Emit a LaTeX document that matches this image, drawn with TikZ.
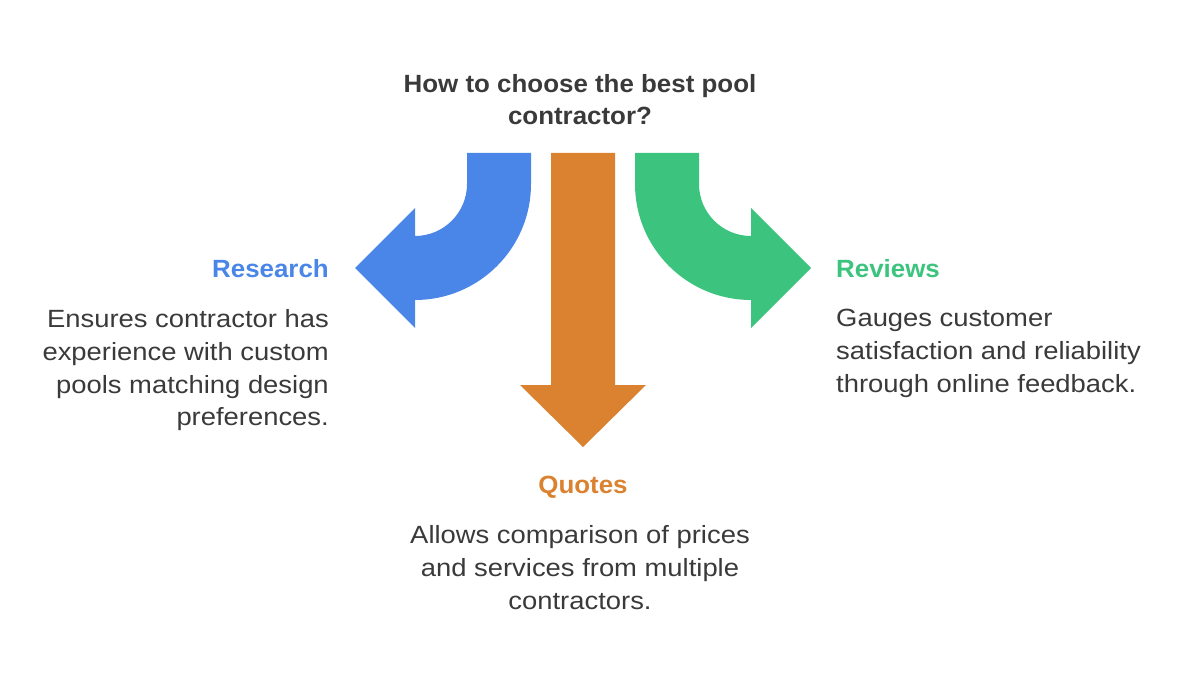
\documentclass[tikz,border=0pt]{standalone}
\usepackage{fontspec}
\setmainfont{Liberation Sans}
\newfontfamily\bodyf[FakeStretch=1.1]{Liberation Sans}
\newfontfamily\headf[FakeStretch=1.04]{Liberation Sans}
\definecolor{cblue}{HTML}{4A86E8}
\definecolor{corange}{HTML}{DB8230}
\definecolor{cgreen}{HTML}{3CC47F}
\definecolor{ctext}{HTML}{3A3A3A}
\begin{document}
\begin{tikzpicture}[x=1bp,y=-1bp,
  body/.style={inner sep=0,font=\bodyf\fontsize{25}{33}\selectfont,text=ctext},
  head/.style={inner sep=0,font=\headf\fontsize{25}{32}\selectfont\bfseries}]
\useasboundingbox (0,0) rectangle (1200,685);
% blue arrow
\fill[cblue] (467,153) -- (467,184) arc[start angle=0,end angle=90,radius=52] -- (415,236) -- (415,208) -- (355,268) -- (415,328) -- (415,300) arc[start angle=90,end angle=0,radius=116] -- (531,153) -- cycle;
% green arrow
\fill[cgreen] (699,153) -- (699,184) arc[start angle=180,end angle=90,radius=52] -- (751,236) -- (751,208) -- (811,268) -- (751,328) -- (751,300) arc[start angle=90,end angle=180,radius=116] -- (635,153) -- cycle;
% orange arrow
\fill[corange] (551,153) -- (551,385) -- (520,385) -- (583,447) -- (646,385) -- (615,385) -- (615,153) -- cycle;
\node[head,text=ctext,align=center,anchor=north] (title) at (580,74) {How to choose the best pool\\contractor?};
\node[head,text=cblue,anchor=base east] (research) at (329,277) {Research};
\node[body,align=right,anchor=north east] (rbody) at (329,309) {Ensures contractor has\\experience with custom\\pools matching design\\preferences.};
\node[head,text=cgreen,anchor=base west] (reviews) at (836,277) {Reviews};
\node[body,align=left,anchor=north west] (vbody) at (836,309) {Gauges customer\\satisfaction and reliability\\through online feedback.};
\node[head,text=corange,anchor=base] (quotes) at (583,493) {Quotes};
\node[body,align=center,anchor=north] (qbody) at (580,525) {Allows comparison of prices\\and services from multiple\\contractors.};
\end{tikzpicture}
\end{document}
